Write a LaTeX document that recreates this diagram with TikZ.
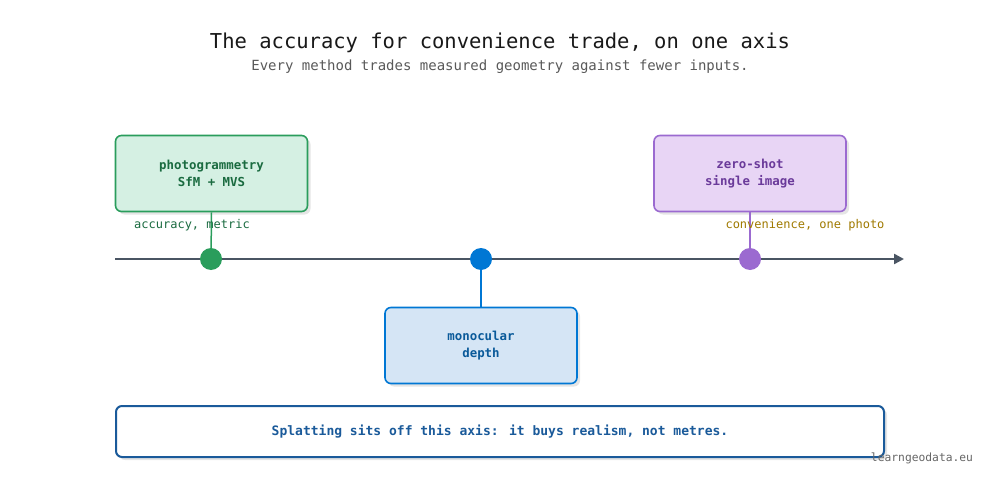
\documentclass[tikz,border=0pt]{standalone}
\usepackage{fontspec}
\setmainfont{DejaVu Sans Mono}
\usetikzlibrary{arrows.meta,shadows}
\definecolor{gC}{HTML}{2A9D5C}
\definecolor{gF}{HTML}{D5F0E3}
\definecolor{gT}{HTML}{1A6B40}
\definecolor{pC}{HTML}{9B6AD0}
\definecolor{pF}{HTML}{E8D5F5}
\definecolor{pT}{HTML}{6A3A9A}
\definecolor{bC}{HTML}{0077D4}
\definecolor{bF}{HTML}{D5E5F5}
\definecolor{bT}{HTML}{0A5A9A}
\definecolor{nC}{HTML}{1A5A9A}
\definecolor{axC}{HTML}{4A5563}
\definecolor{oT}{HTML}{A07A00}
\tikzset{
  card/.style={rounded corners=6pt, line width=1.6pt, minimum width=192pt, minimum height=76pt,
    align=center, font=\fontsize{12.4}{17}\selectfont\bfseries,
    drop shadow={shadow xshift=3pt, shadow yshift=-3pt, fill=black, opacity=0.10}},
  dot/.style={circle, inner sep=0pt, minimum size=22pt},
  stem/.style={line width=1.5pt},
  lbl/.style={font=\fontsize{12}{14}\selectfont},
}
\begin{document}
\begin{tikzpicture}[x=1pt,y=-1pt]
\useasboundingbox[fill=white] (0,0) rectangle (1000,489);
\node[font=\fontsize{20.5}{24}\selectfont, text=black!90] (title) at (500,42.5) {The accuracy for convenience trade, on one axis};
\node[font=\fontsize{14}{17}\selectfont, text=black!65] (sub) at (500,67) {Every method trades measured geometry against fewer inputs.};
\coordinate (a0) at (115,259);
\coordinate (a1) at (904,259);
\draw[axC, line width=2.4pt, -{Triangle[length=10pt,width=10pt]}] (a0) -- (a1);
\node[card, draw=gC, fill=gF, text=gT] (photo) at (211.5,173.5) {photogrammetry\\SfM + MVS};
\node[card, draw=pC, fill=pF, text=pT] (zero) at (750,173.5) {zero-shot\\single image};
\node[card, draw=bC, fill=bF, text=bT] (mono) at (481,345.5) {monocular\\depth};
\node[dot, fill=gC] (dg) at (211,259) {};
\node[dot, fill=bC] (db) at (481,259) {};
\node[dot, fill=pC] (dp) at (750,259) {};
\draw[stem, gC] (photo.south) -- (dg);
\draw[stem, pC] (zero.south) -- (dp);
\draw[stem, bC] (db) -- (mono.north);
\node[lbl, text=gT] (la) at (192,225) {accuracy, metric};
\node[lbl, text=oT] (lc) at (805,225) {convenience, one photo};
\node[rounded corners=6pt, line width=2pt, draw=nC, fill=white, minimum width=768pt, minimum height=51pt,
  text=nC, font=\fontsize{13}{16}\selectfont\bfseries,
  drop shadow={shadow xshift=3pt, shadow yshift=-3pt, fill=black, opacity=0.10}] (note) at (500,431.5)
  {Splatting sits off this axis: it buys realism, not metres.};
\node[font=\fontsize{11.3}{13}\selectfont, text=black!60] (credit) at (922,458) {learngeodata.eu};
\end{tikzpicture}
\end{document}
